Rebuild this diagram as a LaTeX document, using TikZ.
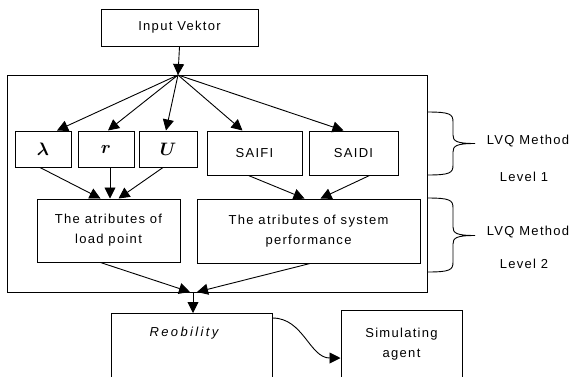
\documentclass[tikz,border=0pt]{standalone}
\usepackage{fix-cm}
\usepackage{fontspec}
\setmainfont{Liberation Sans}[LetterSpace=10]
\usepackage{bm}
\usetikzlibrary{arrows.meta}

\tikzset{
  box/.style={draw, line width=1pt, inner sep=0pt, align=center, font=\fontsize{13}{20}\selectfont},
  sym/.style={box, minimum height=36pt, font=\fontsize{18}{20}\selectfont},
  arr/.style={line width=0.9pt, -{Triangle[length=11pt,width=11pt]}},
  lbl/.style={font=\fontsize{13}{16}\selectfont},
}

\begin{document}
\begin{tikzpicture}[x=1pt,y=-1pt]
\useasboundingbox (0,0) rectangle (577,376);

\node[box, minimum width=157pt, minimum height=37pt] (inp) at (179.5,27.5) {Input Vektor};
\draw[line width=1pt] (7,75) rectangle (427,292);
\coordinate (hub) at (178,75);
\coordinate (sink) at (193,292);

\node[sym, minimum width=56pt] (lam) at (43,149) {$\bm{\lambda}$};
\node[sym, minimum width=56pt] (r) at (106,149) {$\bm{r}$};
\node[sym, minimum width=58pt] (u) at (168,149) {$\bm{U}$};
\node[box, minimum width=95pt, minimum height=44pt] (saifi) at (254.5,153) {SAIFI};
\node[box, minimum width=89pt, minimum height=44pt] (saidi) at (353.5,153) {SAIDI};

\node[box, minimum width=143pt, minimum height=63pt] (load) at (108.5,230.5) {The atributes of\\load point};
\node[box, minimum width=223pt, minimum height=64pt] (sys) at (308.5,231) {The atributes of system\\performance};

\node[box, minimum width=161pt, minimum height=72pt, anchor=north] (rel) at (191.5,313) {};
\node[lbl] (reltxt) at (184,333) {\addfontfeature{LetterSpace=18}\itshape Reobility};
\node[box, minimum width=121pt, minimum height=68pt, anchor=north] (sim) at (401.5,310) {Simulating\\agent};

% arrows
\draw[arr] (inp.south) -- (hub);
\draw[arr] (hub) -- ([xshift=14pt]lam.north);
\draw[arr] (hub) -- ([xshift=2pt]r.north);
\draw[arr] (hub) -- ([xshift=-2pt]u.north);
\draw[arr] (hub) -- ([xshift=-12pt]saifi.north);
\draw[arr] (hub) -- ([xshift=-10pt]saidi.north);

\draw[arr] ([xshift=-3pt]lam.south) -- ([xshift=-8pt]load.north);
\draw[arr] ([xshift=4pt]r.south) -- ([xshift=1.5pt]load.north);
\draw[arr] ([xshift=-5pt]u.south) -- ([xshift=10pt]load.north);
\draw[arr] ([xshift=-6pt]saifi.south) -- ([xshift=-4pt]sys.north);
\draw[arr] ([xshift=16pt]saidi.south) -- ([xshift=12pt]sys.north);

\draw[arr] ([xshift=-8pt]load.south) -- ([xshift=-3pt]sink);
\draw[arr] ([xshift=1.5pt]sys.south) -- ([xshift=4pt]sink);
\draw[arr] (sink) -- (rel.north -| sink);
\draw[arr] ([yshift=-5pt]rel.north east) to[out=0,in=180] ([yshift=-48pt]sim.north west);

% braces
\draw[line width=0.9pt] (427,112) .. controls (450,112) and (453,114) .. (453,122) -- (453,135)
  .. controls (453,141) and (456,143.5) .. (475,143.5)
  .. controls (456,143.5) and (453,146) .. (453,152) -- (453,165)
  .. controls (453,173) and (450,175) .. (427,175);
\draw[line width=0.9pt] (427,198) .. controls (450,198) and (453,200) .. (453,208) -- (453,227)
  .. controls (453,233) and (456,235.5) .. (475,235.5)
  .. controls (456,235.5) and (453,238) .. (453,244) -- (453,262)
  .. controls (453,270) and (450,272) .. (427,272);

\node[lbl] (lvq1) at (528,141) {LVQ Method};
\node[lbl] (lev1) at (524,177) {Level 1};
\node[lbl] (lvq2) at (528,232) {LVQ Method};
\node[lbl] (lev2) at (524,264) {Level 2};

\end{tikzpicture}
\end{document}
